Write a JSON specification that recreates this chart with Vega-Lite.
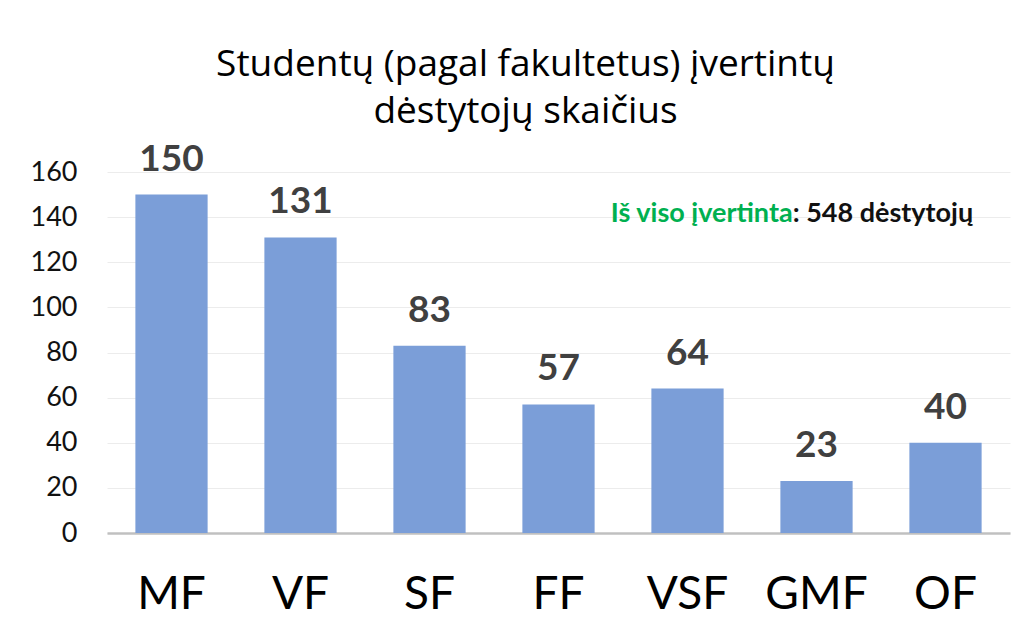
{
  "$schema": "https://vega.github.io/schema/vega-lite/v6.json",
  "autosize": "none",
  "width": 903,
  "height": 361,
  "padding": {"left": 107, "top": 172, "right": 17, "bottom": 98},
  "background": "white",
  "config": {"view": {"stroke": null}, "font": "Lato"},
  "title": {
    "text": ["Studentų (pagal fakultetus) įvertintų", "dėstytojų skaičius"],
    "font": "Open Sans",
    "fontSize": 37,
    "fontWeight": "normal",
    "color": "#000000",
    "lineHeight": 47,
    "anchor": "middle",
    "dx": -33,
    "offset": -27,
    "baseline": "bottom"
  },
  "datasets": {
    "bars": [
      {"fakultetas": "MF", "skaicius": 150},
      {"fakultetas": "VF", "skaicius": 131},
      {"fakultetas": "SF", "skaicius": 83},
      {"fakultetas": "FF", "skaicius": 57},
      {"fakultetas": "VSF", "skaicius": 64},
      {"fakultetas": "GMF", "skaicius": 23},
      {"fakultetas": "OF", "skaicius": 40}
    ],
    "note": [
      {"fakultetas": "GMF", "y": 138, "green": "Iš viso įvertinta", "black": ": 548  dėstytojų"}
    ]
  },
  "layer": [
    {
      "data": {"name": "bars"},
      "mark": {"type": "bar", "color": "#7b9ed8"},
      "encoding": {
        "x": {
          "field": "fakultetas",
          "type": "nominal",
          "sort": null,
          "title": null,
          "scale": {"paddingInner": 0.44, "paddingOuter": 0.22},
          "axis": {
            "labelAngle": 0,
            "labelFont": "Lato",
            "labelFontSize": 46,
            "labelColor": "#000000",
            "labelPadding": 39,
            "ticks": false,
            "domainColor": "#c0c0c0",
            "domainWidth": 2.5,
            "grid": false
          }
        },
        "y": {
          "field": "skaicius",
          "type": "quantitative",
          "title": null,
          "scale": {"domain": [0, 160]},
          "axis": {
            "values": [0, 20, 40, 60, 80, 100, 120, 140, 160],
            "labelFont": "Lato",
            "labelFontSize": 27,
            "labelColor": "#111111",
            "labelPadding": 30,
            "ticks": false,
            "domain": false,
            "grid": true,
            "gridColor": "#ececec",
            "gridWidth": 1
          }
        }
      }
    },
    {
      "data": {"name": "bars"},
      "mark": {"type": "text", "font": "Lato", "fontWeight": "bold", "fontSize": 37, "color": "#404040", "baseline": "bottom", "dy": -16},
      "encoding": {
        "x": {"field": "fakultetas", "type": "nominal", "sort": null},
        "y": {"field": "skaicius", "type": "quantitative"},
        "text": {"field": "skaicius", "type": "quantitative"}
      }
    },
    {
      "data": {"name": "note"},
      "mark": {"type": "text", "font": "Lato", "fontWeight": "bold", "fontSize": 27, "color": "#00b050", "align": "right", "baseline": "alphabetic"},
      "encoding": {
        "x": {"field": "fakultetas", "type": "nominal", "sort": null, "bandPosition": 0.17},
        "y": {"field": "y", "type": "quantitative"},
        "text": {"field": "green"}
      }
    },
    {
      "data": {"name": "note"},
      "mark": {"type": "text", "font": "Lato", "fontWeight": "bold", "fontSize": 27, "color": "#111111", "align": "left", "baseline": "alphabetic"},
      "encoding": {
        "x": {"field": "fakultetas", "type": "nominal", "sort": null, "bandPosition": 0.17},
        "y": {"field": "y", "type": "quantitative"},
        "text": {"field": "black"}
      }
    }
  ]
}
